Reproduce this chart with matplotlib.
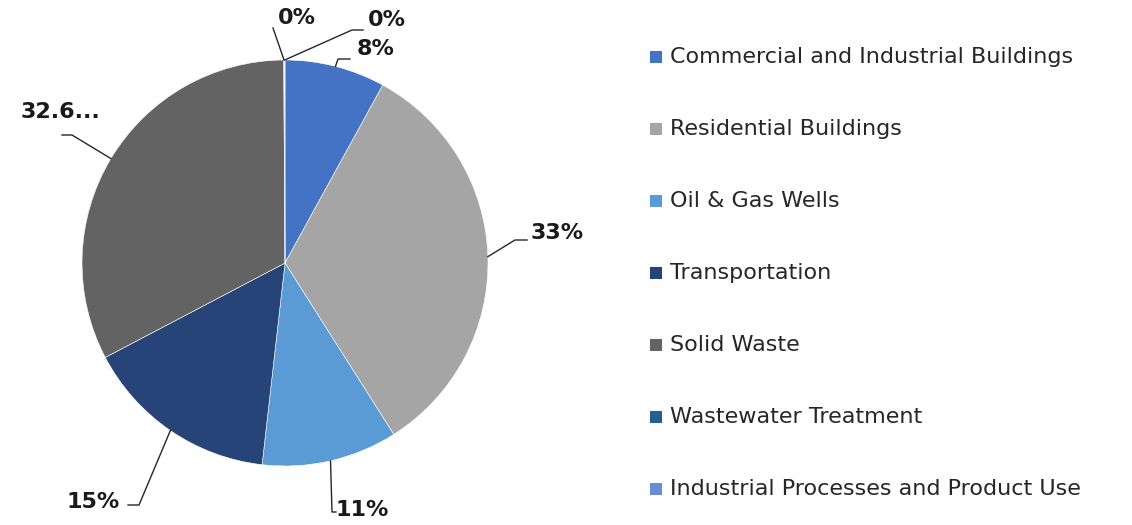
import matplotlib
matplotlib.use("Agg")
import matplotlib.pyplot as plt
import numpy as np

# ---- data ----
categories = ["Commercial and Industrial Buildings", "Residential Buildings",
              "Oil & Gas Wells", "Transportation", "Solid Waste",
              "Wastewater Treatment", "Industrial Processes and Product Use"]
values = [8.0, 33.0, 10.8, 15.5, 32.6, 0.05, 0.05]
label_texts = ["8%", "33%", "11%", "15%", "32.6...", "0%", "0%"]
colors = ["#4472C4", "#A5A5A5", "#5B9BD5", "#264478", "#636363", "#255E91", "#698ED0"]

W, H = 1132, 525
fig = plt.figure(figsize=(W / 100, H / 100), dpi=100)
fig.patch.set_facecolor("white")

cx, cy, R = 285, 263, 203
ax = fig.add_axes([(cx - R) / W, (H - cy - R) / H, 2 * R / W, 2 * R / H])

wedges, _ = ax.pie(values, colors=colors, startangle=90, counterclock=False,
                   radius=1.0, wedgeprops=dict(linewidth=0.4, edgecolor="white"))
ax.set_xlim(-1, 1)
ax.set_ylim(-1, 1)
ax.set_aspect("equal")
ax.axis("off")


def px(x, y):
    return (x / W, 1 - y / H)


def anchor(w, frac=0.5):
    ang = np.deg2rad(w.theta1 + (w.theta2 - w.theta1) * frac)
    d = ax.transData.transform((w.center[0] + w.r * np.cos(ang),
                                w.center[1] + w.r * np.sin(ang)))
    f = fig.transFigure.inverted().transform(d)
    return f


# layout of labels: (text centre px, elbow points px)
layout = {
    0: ((376, 49), [(338, 59), (350, 59)]),
    1: ((557, 233), [(515, 240), (527, 240)]),
    2: ((362, 510), [(332, 512), (336, 512)]),
    3: ((93, 502), [(139, 505), (128, 505)]),
    4: ((60, 112), [(72, 135), (62, 135)]),
    5: ((297, 18), [(273, 28)]),
    6: ((387, 20), [(352, 30), (363, 30)]),
}

for i, w in enumerate(wedges):
    (tx, ty), pts = layout[i]
    a = anchor(w)
    xs = [a[0]] + [px(*p)[0] for p in pts]
    ys = [a[1]] + [px(*p)[1] for p in pts]
    fig.add_artist(plt.Line2D(xs, ys, transform=fig.transFigure,
                              color="#262626", linewidth=1.0))
    fig.text(*px(tx, ty), label_texts[i], ha="center", va="center",
             fontsize=16, fontweight="bold", color="#1a1a1a",
             family="DejaVu Sans")

# legend
for i, (cat, col) in enumerate(zip(categories, colors)):
    y = 57 + 72 * i
    fig.add_artist(plt.Rectangle(px(650, y + 6), 12 / W, 12 / H,
                                 transform=fig.transFigure, facecolor=col,
                                 edgecolor="none"))
    fig.text(*px(670, y), cat, ha="left", va="center", fontsize=16,
             color="#262626", family="DejaVu Sans")

fig.savefig("out.png", dpi=100, facecolor="white")
